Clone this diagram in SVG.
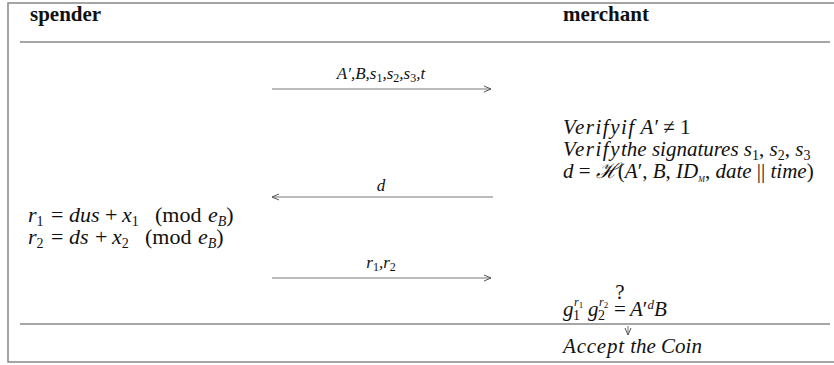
<svg xmlns="http://www.w3.org/2000/svg" width="834" height="365" viewBox="0 0 834 365">
<style>
.frame{stroke:#888;stroke-width:1.5;fill:none}
.msg{stroke:#777;stroke-width:1;fill:none}
.hd{font-family:"Liberation Serif",serif;font-weight:bold;font-size:21px;fill:#111}
.m{font-family:"Liberation Serif",serif;font-size:21px;fill:#111}
.f{font-size:22px}
.lbl{font-family:"Liberation Serif",serif;font-size:17px;font-style:italic;fill:#111}
.i{font-style:italic}
.sub{font-size:14px;font-style:normal}
.subi{font-size:14px;font-style:italic}
.ls{letter-spacing:1.5px}
</style>
<defs>
<marker id="ah" markerWidth="10" markerHeight="10" refX="8" refY="4" orient="auto" markerUnits="userSpaceOnUse">
<path d="M1,1 L8,4 L1,7" fill="none" stroke="#555" stroke-width="1"/>
</marker>
</defs>
<rect width="834" height="365" fill="#fff"/>
<g id="frame">
<path class="frame" d="M834,3 H8 V362 H834"/>
<line class="frame" x1="20" y1="42" x2="830" y2="42"/>
<line class="frame" x1="20" y1="324" x2="830" y2="324"/>
</g>
<g id="spender">
<text class="hd" x="30" y="21">spender</text>
<text class="m f" y="222"><tspan class="i" x="28">r</tspan><tspan class="sub" dy="4">1</tspan><tspan x="51" dy="-4">=</tspan><tspan class="i" x="69">dus</tspan><tspan x="105">+</tspan><tspan class="i" x="122">x</tspan><tspan class="sub" dy="4">1</tspan><tspan x="155" dy="-4">(mod</tspan><tspan class="i" x="208">e</tspan><tspan class="subi" dy="4">B</tspan><tspan dy="-4">)</tspan></text>
<text class="m f" y="244"><tspan class="i" x="28">r</tspan><tspan class="sub" dy="4">2</tspan><tspan x="51" dy="-4">=</tspan><tspan class="i" x="69">ds</tspan><tspan x="95">+</tspan><tspan class="i" x="112">x</tspan><tspan class="sub" dy="4">2</tspan><tspan x="145" dy="-4">(mod</tspan><tspan class="i" x="198">e</tspan><tspan class="subi" dy="4">B</tspan><tspan dy="-4">)</tspan></text>
</g>
<g id="merchant">
<text class="hd" x="563" y="21">merchant</text>
<text class="m" x="563" y="134"><tspan class="i ls">Verifyif</tspan><tspan class="i"> A′</tspan> ≠ 1</text>
<text class="m" x="563" y="156"><tspan class="i ls">Verify</tspan><tspan class="i">the signatures s</tspan><tspan class="sub" dy="4">1</tspan><tspan dy="-4">, </tspan><tspan class="i">s</tspan><tspan class="sub" dy="4">2</tspan><tspan dy="-4">, </tspan><tspan class="i">s</tspan><tspan class="sub" dy="4">3</tspan></text>
<text class="m" x="563" y="178"><tspan class="i">d</tspan> = <tspan class="i">ℋ</tspan>(<tspan class="i">A</tspan>′, <tspan class="i">B</tspan>, <tspan class="i">ID</tspan><tspan class="i" font-size="8" dy="4">M</tspan><tspan dy="-4">, </tspan><tspan class="i">date</tspan> || <tspan class="i">time</tspan>)</text>
<text class="m" y="316"><tspan class="i" x="563">g</tspan><tspan class="sub" x="573" dy="4">1</tspan><tspan class="i" font-size="12" x="574" dy="-14">r</tspan><tspan font-size="9" dy="2">1</tspan><tspan class="i" x="588" dy="8">g</tspan><tspan class="sub" x="598" dy="4">2</tspan><tspan class="i" font-size="12" x="599" dy="-14">r</tspan><tspan font-size="9" dy="2">2</tspan><tspan x="614" dy="8">=</tspan><tspan class="i" x="630">A</tspan><tspan>′</tspan><tspan class="i" font-size="13" dy="-7">d</tspan><tspan class="i" dy="7">B</tspan></text>
<text class="m" x="620" y="299" font-size="11" text-anchor="middle">?</text>
<line class="msg" x1="628" y1="326" x2="628" y2="335" marker-end="url(#ah)"/>
<text class="m" x="563" y="353"><tspan class="i" letter-spacing="0.8">Accept</tspan><tspan class="i"> the Coin</tspan></text>
</g>
<g id="connectors">
<line class="msg" x1="272" y1="89" x2="491" y2="89" marker-end="url(#ah)"/>
<text class="lbl" x="381" y="79" text-anchor="middle">A′,B,s<tspan font-style="normal" font-size="12" dy="3">1</tspan><tspan dy="-3">,s</tspan><tspan font-style="normal" font-size="12" dy="3">2</tspan><tspan dy="-3">,s</tspan><tspan font-style="normal" font-size="12" dy="3">3</tspan><tspan dy="-3">,t</tspan></text>
<line class="msg" x1="493" y1="197" x2="272" y2="197" marker-end="url(#ah)"/>
<text class="lbl" x="381" y="191" text-anchor="middle" font-size="18">d</text>
<line class="msg" x1="272" y1="278" x2="491" y2="278" marker-end="url(#ah)"/>
<text class="lbl" x="381" y="268" text-anchor="middle">r<tspan font-style="normal" font-size="12" dy="3">1</tspan><tspan dy="-3">,r</tspan><tspan font-style="normal" font-size="12" dy="3">2</tspan></text>
</g>
</svg>
